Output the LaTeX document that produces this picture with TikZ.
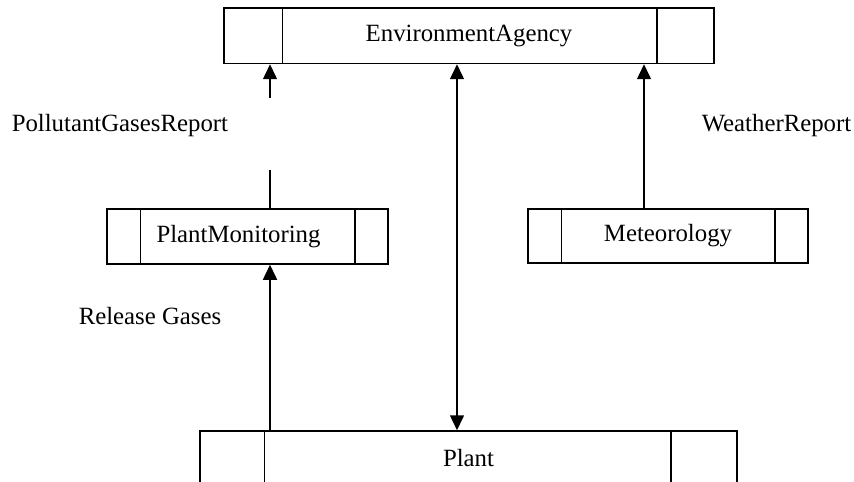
\documentclass[tikz,border=0pt]{standalone}
\usepackage{fontspec}
\setmainfont{Liberation Serif}
\usetikzlibrary{arrows.meta,calc}
\begin{document}
\begin{tikzpicture}[x=0.5pt,y=-0.5pt,
  line width=0.75pt,
  box/.style={draw,rectangle,inner sep=0pt,font=\fontsize{12.4}{15}\selectfont},
  lbl/.style={inner sep=0pt,font=\fontsize{12.4}{15}\selectfont},
  tri/.style={-{Triangle[length=7.5pt,width=7pt]}},
  dtri/.style={{Triangle[length=7.5pt,width=7pt]}-{Triangle[length=7.5pt,width=7pt]}}]
\clip (0,0) rectangle (854,481);
\fill[white] (0,0) rectangle (854,481);

% boxes
\node[box,minimum width=245pt,minimum height=27.75pt] (ea) at (469,35.75) {EnvironmentAgency};
\draw ($(ea.north west)+(59,0)$) -- ($(ea.south west)+(59,0)$);
\draw ($(ea.north east)+(-58,0)$) -- ($(ea.south east)+(-58,0)$);

\node[box,minimum width=140.5pt,minimum height=27.5pt] (pm) at (247.5,236.5) {};
\node[lbl] (pmt) at (238.5,236.5) {PlantMonitoring};
\draw ($(pm.north west)+(34,0)$) -- ($(pm.south west)+(34,0)$);
\draw ($(pm.north east)+(-34,0)$) -- ($(pm.south east)+(-34,0)$);

\node[box,minimum width=140pt,minimum height=27pt] (met) at (668,236) {Meteorology};
\draw ($(met.north west)+(34,0)$) -- ($(met.south west)+(34,0)$);
\draw ($(met.north east)+(-34,0)$) -- ($(met.south east)+(-34,0)$);

\node[box,minimum width=268.5pt,minimum height=27.5pt] (plant) at (468.5,458.5) {Plant};
\draw ($(plant.north west)+(65,0)$) -- ($(plant.south west)+(65,0)$);
\draw ($(plant.north east)+(-67,0)$) -- ($(plant.south east)+(-67,0)$);

% connectors
\coordinate (lx) at (270,0);
\coordinate (mx) at (457,0);
\coordinate (rx) at (644,0);
\coordinate (gapbot) at (270,170);
\coordinate (gaptop) at (270,98);
\draw (pm.north -| lx) -- (gapbot);
\draw[tri] (gaptop) -- (ea.south -| lx);
\draw[tri] (plant.north -| lx) -- (pm.south -| lx);
\draw[dtri] (ea.south -| mx) -- (plant.north -| mx);
\draw[tri] (met.north -| rx) -- (ea.south -| rx);

% labels
\node[lbl,anchor=base west] (pgr) at (11,131) {PollutantGasesReport};
\node[lbl,anchor=base west] (wr) at (701,131) {WeatherReport};
\node[lbl,anchor=base west] (rg) at (78,324) {Release Gases};
\end{tikzpicture}
\end{document}
